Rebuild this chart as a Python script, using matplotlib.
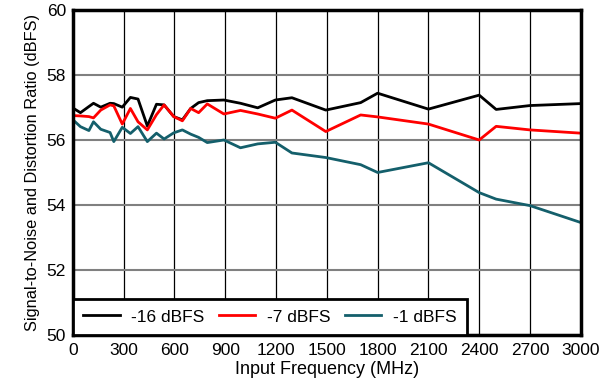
import matplotlib
matplotlib.use("Agg")
import matplotlib.pyplot as plt

plt.rcParams['font.family'] = ['Liberation Sans', 'DejaVu Sans']

# frequencias de entrada (MHz)
freq = [5, 45, 95, 122, 165, 220, 242, 292, 340, 385, 440, 494, 539, 596, 647, 696,
        743, 794, 892, 990, 1092, 1196, 1294, 1494, 1700, 1800, 2100, 2400, 2500, 2700, 3000]

sinad_16 = [56.97, 56.84, 57.03, 57.13, 57.01, 57.13, 57.12, 57.01, 57.31, 57.26, 56.43,
            57.10, 57.08, 56.72, 56.62, 56.97, 57.15, 57.21, 57.23, 57.13, 56.99, 57.23,
            57.30, 56.92, 57.15, 57.44, 56.95, 57.38, 56.94, 57.06, 57.12]

sinad_7 = [56.75, 56.74, 56.72, 56.68, 56.92, 57.08, 57.05, 56.49, 56.97, 56.56, 56.31,
           56.78, 57.08, 56.72, 56.59, 56.97, 56.84, 57.11, 56.80, 56.91, 56.80, 56.67,
           56.92, 56.26, 56.77, 56.71, 56.49, 56.00, 56.42, 56.31, 56.21]

sinad_1 = [56.60, 56.41, 56.29, 56.56, 56.33, 56.23, 55.95, 56.39, 56.20, 56.41, 55.95,
           56.21, 56.03, 56.22, 56.31, 56.18, 56.08, 55.92, 56.00, 55.76, 55.88, 55.93,
           55.60, 55.46, 55.24, 55.00, 55.30, 54.38, 54.18, 53.98, 53.46]

labels = ["-16 dBFS", "-7 dBFS", "-1 dBFS"]
colors = ["#000000", "#ff0000", "#145f6b"]
xticks = list(range(0, 3001, 300))
yticks = list(range(50, 61, 2))

fig = plt.figure(figsize=(6.12, 3.85), dpi=100)
ax = fig.add_axes([0.119, 0.130, 0.830, 0.844])

for y, lab, c in zip([sinad_16, sinad_7, sinad_1], labels, colors):
    ax.plot(freq, y, color=c, lw=2, label=lab)

ax.set_xlim(0, 3000)
ax.set_ylim(50, 60)
ax.set_xticks(xticks)
ax.set_yticks(yticks)
ax.tick_params(length=0, labelsize=12.5)
ax.tick_params(axis="x", pad=6)
ax.tick_params(axis="y", pad=5)

# grade: verticais pretas, horizontais cinza
ax.xaxis.grid(True, color="#000000", lw=0.9)
ax.yaxis.grid(True, color="#808080", lw=1.5)
ax.set_axisbelow(True)

for s in ax.spines.values():
    s.set_linewidth(2.5)
    s.set_color("black")

ax.set_xlabel("Input Frequency (MHz)", fontsize=13, labelpad=2)
ax.set_ylabel("Signal-to-Noise and Distortion Ratio (dBFS)", fontsize=11.8, labelpad=5)

leg = ax.legend(loc="lower left", bbox_to_anchor=(0, 0), borderaxespad=0, ncol=3,
                fontsize=12.5, frameon=True, fancybox=False, handlelength=2.1,
                handletextpad=0.65, columnspacing=0.85, borderpad=0.6)
leg.get_frame().set_edgecolor("black")
leg.get_frame().set_linewidth(2)
leg.get_frame().set_alpha(1)

fig.savefig("out.png", dpi=100)
